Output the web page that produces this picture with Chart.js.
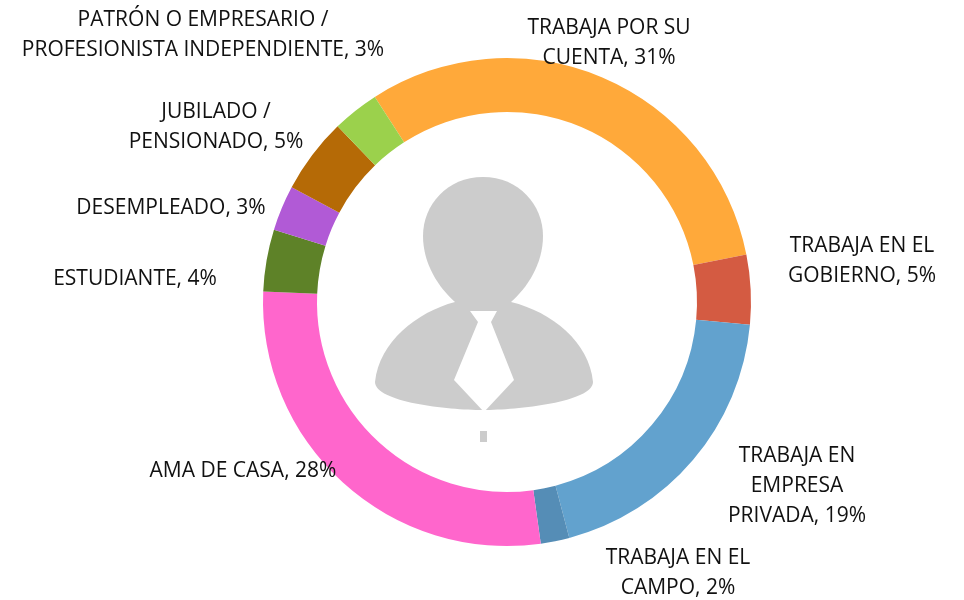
<!DOCTYPE html>
<html><head><meta charset="utf-8">
<style>html,body{margin:0;padding:0;background:#fff}#w{position:absolute;left:0;top:0;width:964px;height:600px}</style>
<script src="https://cdn.jsdelivr.net/npm/chart.js@4"></script></head>
<body><div id="w"><canvas id="c" width="964" height="600"></canvas></div>
<script>
const categories = ["TRABAJA POR SU CUENTA","TRABAJA EN EL GOBIERNO","TRABAJA EN EMPRESA PRIVADA","TRABAJA EN EL CAMPO","AMA DE CASA","ESTUDIANTE","DESEMPLEADO","JUBILADO / PENSIONADO","PATRÓN O EMPRESARIO / PROFESIONISTA INDEPENDIENTE"];
const values = [31,4.6,19.4,1.9,27.9,4.1,3,5,3.1];
const colors = ["#FFA93A","#D45B42","#62A2CE","#558DB6","#FF66CC","#5E8228","#B15AD6","#B56A06","#9BD14C"];
const labelLines = [["TRABAJA POR SU","CUENTA, 31%"],["TRABAJA EN EL","GOBIERNO, 5%"],["TRABAJA EN","EMPRESA","PRIVADA, 19%"],["TRABAJA EN EL","CAMPO, 2%"],["AMA DE CASA, 28%"],["ESTUDIANTE, 4%"],["DESEMPLEADO, 3%"],["JUBILADO /","PENSIONADO, 5%"],["PATRÓN O EMPRESARIO /","PROFESIONISTA INDEPENDIENTE, 3%"]];
const labelCenters = [[609,43.5],[862,261],[797,486],[678,573],[243,471],[135,279],[171,208],[216,127],[203,35]];
const lineHeight = 30;
const FONT = '21px "Open Sans", sans-serif';

const extras = {
  id:'extras',
  afterDatasetsDraw(chart){
    const ctx = chart.ctx, m = chart.getDatasetMeta(0).data[0];
    const cx = m.x, cy = m.y;
    ctx.save();
    ctx.fillStyle='#CCCCCC';
    // head and neck
    ctx.beginPath();
    ctx.moveTo(cx-24,cy-125);
    ctx.bezierCurveTo(cx+12,cy-125,cx+36,cy-97,cx+36,cy-66);
    ctx.bezierCurveTo(cx+36,cy-38,cx+20,cy-14,cx+4,cy);
    ctx.lineTo(cx-52,cy);
    ctx.bezierCurveTo(cx-68,cy-14,cx-84,cy-38,cx-84,cy-66);
    ctx.bezierCurveTo(cx-84,cy-97,cx-60,cy-125,cx-24,cy-125);
    ctx.fill();
    // shoulders
    ctx.beginPath();
    ctx.moveTo(cx-132,cy+80);
    ctx.bezierCurveTo(cx-128,cy+40,cx-90,cy+10,cx-52,cy);
    ctx.lineTo(cx+4,cy);
    ctx.bezierCurveTo(cx+45,cy+10,cx+82,cy+40,cx+86,cy+80);
    ctx.bezierCurveTo(cx+86,cy+100,cx+10,cy+108,cx-24,cy+108);
    ctx.bezierCurveTo(cx-60,cy+108,cx-132,cy+100,cx-132,cy+80);
    ctx.fill();
    // tie
    ctx.fillStyle='#FFFFFF';
    ctx.beginPath();
    ctx.moveTo(cx-37,cy+9);ctx.lineTo(cx-10,cy+9);ctx.lineTo(cx-16,cy+20);ctx.lineTo(cx+7,cy+78);
    ctx.lineTo(cx-23,cy+110);ctx.lineTo(cx-53,cy+78);ctx.lineTo(cx-29,cy+20);
    ctx.closePath();ctx.fill();
    ctx.fillStyle='#CCCCCC';
    ctx.fillRect(cx-27,cy+129,7,11);
    // labels
    ctx.fillStyle='#111111'; ctx.font=FONT; ctx.textAlign='center'; ctx.textBaseline='middle';
    labelLines.forEach((ls,i)=>{
      const [x,y]=labelCenters[i], y0=y-(ls.length-1)*lineHeight/2;
      ls.forEach((t,j)=>ctx.fillText(t,x,y0+j*lineHeight));
    });
    ctx.restore();
  }
};
new Chart(document.getElementById('c'),{
  type:'doughnut',
  data:{labels:categories,datasets:[{data:values,backgroundColor:colors,borderWidth:0}]},
  options:{responsive:false,animation:false,rotation:-32.8,cutout:'77.87%',radius:244,
    layout:{padding:{left:50,right:0,top:4,bottom:0}},
    plugins:{legend:{display:false},tooltip:{enabled:false},title:{display:false}}},
  plugins:[extras]
});
</script></body></html>
